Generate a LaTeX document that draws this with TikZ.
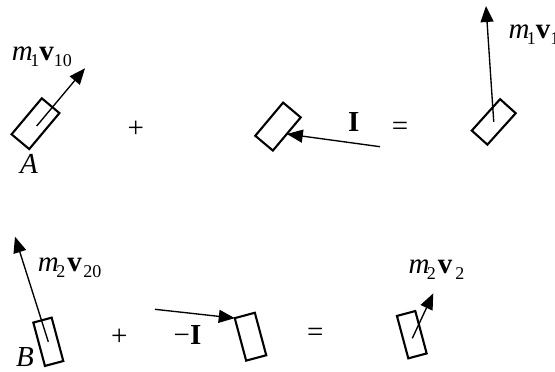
\documentclass[tikz,border=0pt]{standalone}
\usepackage{fontspec}
\setmainfont{Liberation Serif}
\usetikzlibrary{arrows.meta}
\newcommand\subsz{\fontsize{18}{18}\selectfont}
\newcommand\momlab[4]{\textit{m}\kern-2.5pt\lower6pt\hbox{\subsz #1}\kern#2\textbf{v}\kern#3\lower6pt\hbox{\subsz #4}}
\begin{document}
\begin{tikzpicture}[x=1pt,y=1pt,
  body/.style={draw, line width=2.1pt, inner sep=0pt, outer sep=0pt},
  vec/.style={line width=1.35pt, -{Triangle[length=16pt,width=13pt]}},
  lab/.style={inner sep=0pt, font=\fontsize{29}{32}\selectfont}]
\useasboundingbox (0,0) rectangle (555,372);
% bodies
\node[body, minimum width=47pt, minimum height=23pt, rotate=50] (A) at (35.5,248.3) {};
\node[body, minimum width=43.3pt, minimum height=23pt, rotate=50] (mb) at (278,245.4) {};
\node[body, minimum width=42.3pt, minimum height=21pt, rotate=48] (C) at (493.75,250.1) {};
\node[body, minimum width=44.9pt, minimum height=19pt, rotate=105] (B) at (48.3,30.2) {};
\node[body, minimum width=44pt, minimum height=20.8pt, rotate=105] (bm) at (250.5,35.3) {};
\node[body, minimum width=43.9pt, minimum height=19pt, rotate=105] (br) at (411.8,37.3) {};
% free ends
\coordinate (tipA) at (85,303.7);
\coordinate (tipC) at (486,366);
\coordinate (Istart) at (380,225.3);
\coordinate (tipB) at (15,135.3);
\coordinate (nIstart) at (155,62.7);
\coordinate (tipD) at (433.3,78.7);
% vectors
\draw[vec] ([shift={(1.2,-2.3)}]A.center) -- (tipA);
\draw[vec] (C.center) -- (tipC);
\draw[vec] (Istart) -- (mb.south);
\draw[vec] (B.center) -- (tipB);
\draw[vec] (nIstart) -- (bm.north east);
\draw[vec] ([shift={(0.5,-3.6)}]br.center) -- (tipD);
% labels
\node[lab, anchor=base west] (l1) at (11.7,311) {\momlab{1}{0pt}{0pt}{10}};
\node[lab, anchor=base west] (l2) at (508.3,333) {\momlab{1}{0pt}{0pt}{1}};
\node[lab, anchor=base west] (l3) at (37.7,100.3) {\momlab{2}{2pt}{1.5pt}{20}};
\node[lab, anchor=base west] (l4) at (408.3,98) {\momlab{2}{2pt}{3pt}{2}};
\node[lab, anchor=base] (la) at (29,198) {\textit{A}};
\node[lab, anchor=base] (lb) at (25,5) {\textit{B}};
\node[lab, anchor=base] (lI) at (353.7,240.3) {\textbf{I}};
\node[lab, anchor=base] (lnI) at (187.5,27) {−\textbf{I}};
\node[lab] (p1) at (135.8,243) {+};
\node[lab] (e1) at (400,243) {=};
\node[lab] (p2) at (119.2,35) {+};
\node[lab] (e2) at (315.3,37.2) {=};
\end{tikzpicture}
\end{document}
